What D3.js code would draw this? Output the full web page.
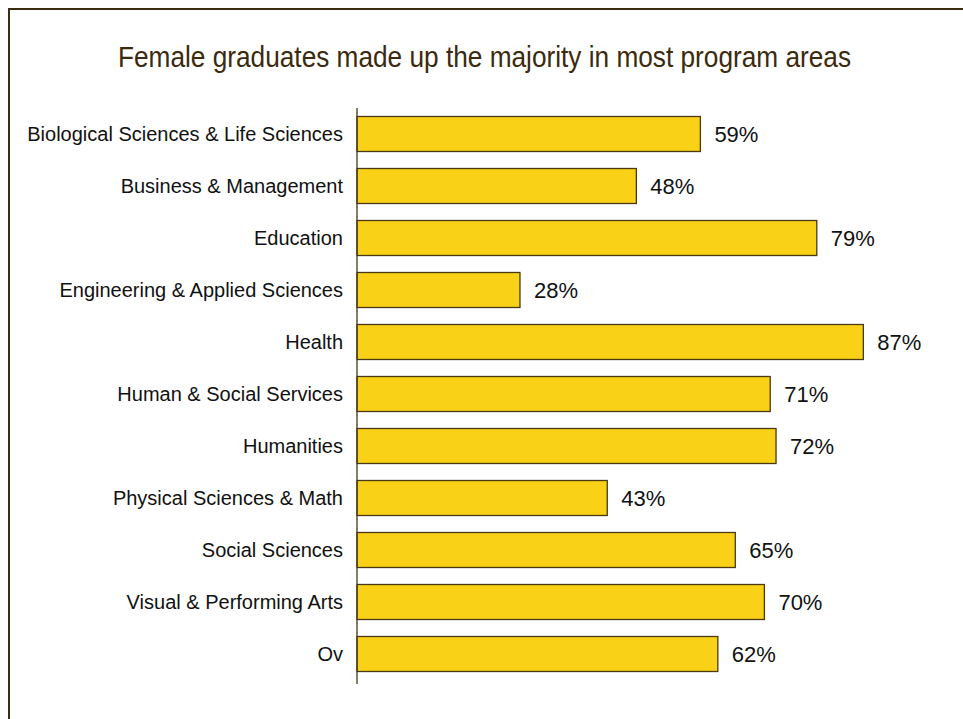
<!DOCTYPE html>
<html>
<head>
<meta charset="utf-8">
<style>
  body { margin: 0; background: #fff; }
  svg { display: block; font-family: "Liberation Sans", Arial, sans-serif; }
</style>
</head>
<body>
<div id="chart"></div>
<script src="https://d3js.org/d3.v7.min.js"></script>
<script>
    // program areas and share of female graduates (%)
    var categories = [
        "Biological Sciences & Life Sciences",
        "Business & Management",
        "Education",
        "Engineering & Applied Sciences",
        "Health",
        "Human & Social Services",
        "Humanities",
        "Physical Sciences & Math",
        "Social Sciences",
        "Visual & Performing Arts",
        "Ov"
    ];
    var femaleShare = [59, 48, 79, 28, 87, 71, 72, 43, 65, 70, 62];
    var valueLabels = ["59%", "48%", "79%", "28%", "87%", "71%", "72%", "43%", "65%", "70%", "62%"];
    var title = "Female graduates made up the majority in most program areas";

    var width = 963, height = 719;
    var axisX = 357;

    var svg = d3.select("#chart")
        .append("svg")
        .attr("width", width)
        .attr("height", height);

    // outer frame (runs off the right and bottom edges)
    svg.append("path")
        .attr("d", "M9,730V9H975")
        .attr("fill", "none")
        .attr("stroke", "#3b2d12")
        .attr("stroke-width", 2);

    svg.append("text")
        .attr("x", 484.5)
        .attr("y", 67)
        .attr("text-anchor", "middle")
        .attr("font-size", 29)
        .attr("textLength", 733)
        .attr("lengthAdjust", "spacingAndGlyphs")
        .attr("fill", "#3b2a0e")
        .text(title);

    var x = d3.scaleLinear()
        .domain([0, 100])
        .range([axisX, axisX + 582]);

    var y = d3.scaleBand()
        .domain(categories)
        .range([108, 680])
        .paddingInner(0.327)
        .paddingOuter(0.1635);

    var rows = categories.map(function(c, i) {
        return { cat: c, value: femaleShare[i], label: valueLabels[i] };
    });

    svg.selectAll("rect.bar")
        .data(rows)
        .enter()
        .append("rect")
        .attr("class", "bar")
        .attr("x", x(0))
        .attr("y", function(d) { return y(d.cat); })
        .attr("width", function(d) { return x(d.value) - x(0); })
        .attr("height", y.bandwidth())
        .attr("fill", "#f9d116")
        .attr("stroke", "#4a3915")
        .attr("stroke-width", 1.3);

    // category labels
    svg.selectAll("text.cat")
        .data(rows)
        .enter()
        .append("text")
        .attr("class", "cat")
        .attr("x", axisX - 14)
        .attr("y", function(d) { return y(d.cat) + y.bandwidth() / 2; })
        .attr("dy", "0.36em")
        .attr("text-anchor", "end")
        .attr("font-size", 20)
        .attr("fill", "#111")
        .text(function(d) { return d.cat; });

    // value labels
    svg.selectAll("text.val")
        .data(rows)
        .enter()
        .append("text")
        .attr("class", "val")
        .attr("x", function(d) { return x(d.value) + 14; })
        .attr("y", function(d) { return y(d.cat) + y.bandwidth() / 2; })
        .attr("dy", "0.36em")
        .attr("font-size", 22)
        .attr("fill", "#111")
        .text(function(d) { return d.label; });

    // category axis line
    svg.append("line")
        .attr("x1", axisX).attr("x2", axisX)
        .attr("y1", 108).attr("y2", 684)
        .attr("stroke", "#4a3915")
        .attr("stroke-width", 1.3);
</script>
</body>
</html>
